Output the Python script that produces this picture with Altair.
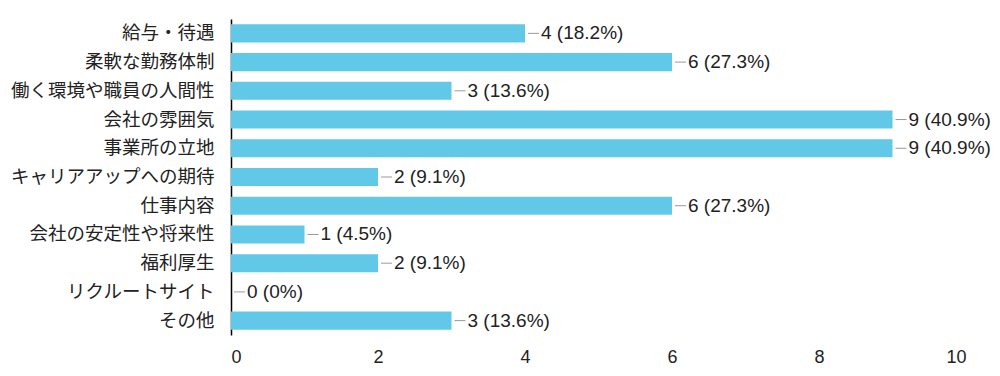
import altair as alt
import pandas as pd

categories = ["給与・待遇", "柔軟な勤務体制", "働く環境や職員の人間性", "会社の雰囲気", "事業所の立地",
              "キャリアアップへの期待", "仕事内容", "会社の安定性や将来性", "福利厚生", "リクルートサイト", "その他"]
values = [4, 6, 3, 9, 9, 2, 6, 1, 2, 0, 3]
labels = ["4 (18.2%)", "6 (27.3%)", "3 (13.6%)", "9 (40.9%)", "9 (40.9%)", "2 (9.1%)",
          "6 (27.3%)", "1 (4.5%)", "2 (9.1%)", "0 (0%)", "3 (13.6%)"]
x_ticks = [0, 2, 4, 6, 8, 10]

df = pd.DataFrame({"cat": categories, "val": values, "label": labels})

y = alt.Y("cat:N", sort=categories, title=None,
          scale=alt.Scale(paddingInner=0.37, paddingOuter=0.185),
          axis=alt.Axis(domain=True, domainColor="#000000", domainWidth=1.5, ticks=False,
                        labelFont="Noto Sans CJK JP", labelFontSize=18.5, labelColor="#222222",
                        labelPadding=17, labelLimit=400, grid=False))
x = alt.X("val:Q", title=None, scale=alt.Scale(domain=[0, 10], nice=False),
          axis=alt.Axis(values=x_ticks, format="d", domain=False, ticks=False, grid=False,
                        labelFont="Liberation Sans", labelFontSize=18, labelColor="#222222",
                        labelPadding=13))

bars = alt.Chart(df).mark_bar(color="#62c8e8").encode(x=x, y=y)
leaders = alt.Chart(df).mark_rule(color="#999999", strokeWidth=1, xOffset=3, x2Offset=14).encode(
    x="val:Q", x2="val:Q", y=alt.Y("cat:N", sort=categories))
text = alt.Chart(df).mark_text(align="left", baseline="middle", dx=16, font="Liberation Sans",
                               fontSize=19, color="#222222").encode(
    x="val:Q", y=alt.Y("cat:N", sort=categories), text="label:N")

chart = alt.layer(bars, leaders, text).properties(
    width=735, height=316,
    background="#ffffff",
    autosize=alt.AutoSizeParams(type="none"),
    padding={"left": 231, "top": 19, "right": 34, "bottom": 41},
).configure_view(strokeWidth=0, stroke=None)

chart.save("out.html", embed_options={"renderer": "svg", "actions": False})
